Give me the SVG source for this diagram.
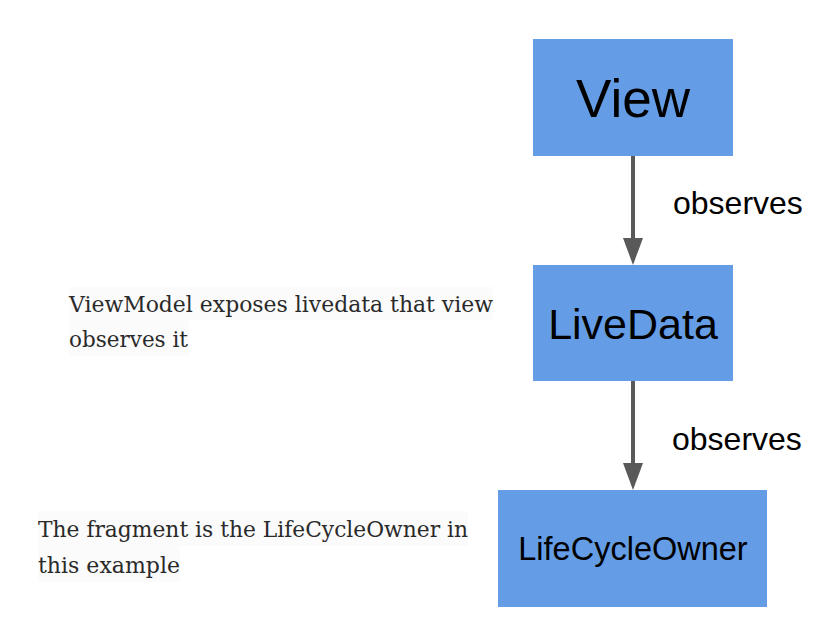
<svg xmlns="http://www.w3.org/2000/svg" width="825" height="623" viewBox="0 0 825 623">
<style>
.box{fill:#649de5}
.lbl{font-family:"Liberation Sans",Arial,sans-serif;fill:#000;text-anchor:middle}
.edge{font-family:"Liberation Sans",Arial,sans-serif;fill:#000;font-size:32px}
.note{font-family:"DejaVu Serif","Liberation Serif",serif;fill:#2a2a2a;font-size:23px}
.conn{stroke:#595959;stroke-width:4;fill:none}
.head{fill:#595959}
.bg{fill:#fbfbfb}
</style>
<rect width="825" height="623" fill="#fff"/>
<g id="notes">
<rect class="bg" x="69" y="287" width="424" height="33"/>
<rect class="bg" x="69" y="320" width="120" height="36"/>
<text class="note" x="69" y="312" textLength="424" lengthAdjust="spacingAndGlyphs">ViewModel exposes livedata that view</text>
<text class="note" x="69" y="347" textLength="119" lengthAdjust="spacingAndGlyphs">observes it</text>
<rect class="bg" x="38" y="511" width="430" height="35"/>
<rect class="bg" x="38" y="546" width="142" height="36"/>
<text class="note" x="38" y="537" textLength="430" lengthAdjust="spacingAndGlyphs">The fragment is the LifeCycleOwner in</text>
<text class="note" x="38" y="573" textLength="142" lengthAdjust="spacingAndGlyphs">this example</text>
</g>
<g id="connectors">
<line class="conn" x1="633" y1="156" x2="633" y2="240"/>
<polygon class="head" points="623,238 643,238 633,265"/>
<line class="conn" x1="633" y1="381" x2="633" y2="465"/>
<polygon class="head" points="623,463 643,463 633,490"/>
<text class="edge" x="673" y="214">observes</text>
<text class="edge" x="672" y="450">observes</text>
</g>
<g id="view">
<rect class="box" x="533" y="39" width="200" height="117"/>
<text class="lbl" x="633" y="117" font-size="53">View</text>
</g>
<g id="livedata">
<rect class="box" x="533" y="265" width="200" height="116"/>
<text class="lbl" x="633" y="339" font-size="43">LiveData</text>
</g>
<g id="lifecycleowner">
<rect class="box" x="498" y="490" width="269" height="117"/>
<text class="lbl" x="633" y="560" font-size="32.5">LifeCycleOwner</text>
</g>
</svg>
